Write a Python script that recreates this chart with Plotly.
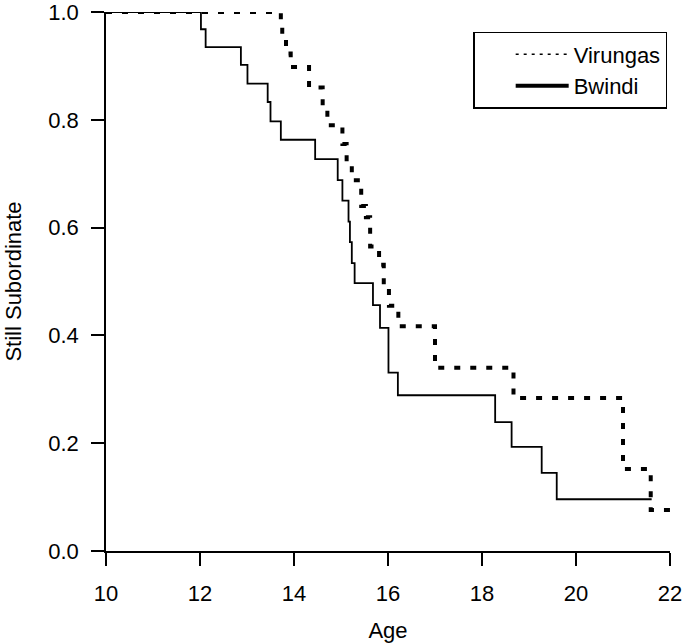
import plotly.graph_objects as go

# Kaplan-Meier style step data (age at event, proportion still subordinate)
virungas_age = [10, 13.72, 13.75, 13.83, 13.93, 14.32, 14.61, 14.71, 15.03, 15.12, 15.23,
                15.43, 15.53, 15.62, 15.81, 15.91, 16.02, 16.22, 17.0, 18.67, 21.0, 21.59, 22.0]
virungas_surv = [1.0, 0.975, 0.949, 0.923, 0.898, 0.860, 0.823, 0.790, 0.755, 0.719, 0.688,
                 0.640, 0.619, 0.565, 0.531, 0.490, 0.455, 0.417, 0.340, 0.284, 0.152, 0.076, 0.076]

bwindi_age = [10, 12.02, 12.12, 12.87, 13.01, 13.44, 13.50, 13.72, 14.45, 14.93, 15.03, 15.16,
              15.19, 15.23, 15.29, 15.68, 15.83, 16.01, 16.21, 18.28, 18.63, 19.27, 19.59, 21.61]
bwindi_surv = [1.0, 0.968, 0.935, 0.902, 0.867, 0.833, 0.797, 0.763, 0.727, 0.688, 0.650, 0.611,
               0.573, 0.534, 0.497, 0.456, 0.414, 0.331, 0.289, 0.239, 0.193, 0.145, 0.096, 0.096]

x_ticks = [10, 12, 14, 16, 18, 20, 22]
y_ticks = [0.0, 0.2, 0.4, 0.6, 0.8, 1.0]
y_tick_labels = ["0.0", "0.2", "0.4", "0.6", "0.8", "1.0"]

FONT = "Liberation Sans, Arial, Helvetica, sans-serif"
FS = 22

fig = go.Figure()
fig.add_trace(go.Scatter(x=virungas_age, y=virungas_surv, mode="lines", line_shape="hv",
                         line=dict(color="black", width=4, dash="6px,10px"),
                         showlegend=False, cliponaxis=False))
fig.add_trace(go.Scatter(x=bwindi_age, y=bwindi_surv, mode="lines", line_shape="hv",
                         line=dict(color="black", width=1.8),
                         showlegend=False, cliponaxis=False))
# legend entries (styled like the original legend)
fig.add_trace(go.Scatter(x=[None], y=[None], mode="lines", name="Virungas",
                         line=dict(color="black", width=1.5, dash="3px,5px")))
fig.add_trace(go.Scatter(x=[None], y=[None], mode="lines", name="Bwindi",
                         line=dict(color="black", width=4)))

axis_common = dict(showline=True, linecolor="black", linewidth=1.5, ticks="outside",
                   ticklen=13, tickwidth=1.5, tickcolor="black", showgrid=False,
                   zeroline=False, automargin=False, ticklabeloverflow="allow",
                   tickfont=dict(family=FONT, size=FS, color="black"))

fig.update_layout(
    width=685, height=643,
    margin=dict(l=106, r=15, t=12, b=92),
    paper_bgcolor="white", plot_bgcolor="white",
    font=dict(family=FONT, size=FS, color="black"),
    xaxis=dict(range=[10, 22], tickvals=x_ticks, ticklabelstandoff=9,
               title=dict(text="Age", font=dict(family=FONT, size=FS), standoff=17),
               **axis_common),
    yaxis=dict(range=[0, 1], tickvals=y_ticks, ticktext=y_tick_labels, ticklabelstandoff=8,
               title=dict(text="Still Subordinate", font=dict(family=FONT, size=FS), standoff=21),
               **axis_common),
    legend=dict(x=0.995, xanchor="right", y=0.963, yanchor="top",
                bordercolor="black", borderwidth=1.5, bgcolor="white",
                font=dict(family=FONT, size=FS), itemwidth=53, indentation=36,
                tracegroupgap=0),
)

fig.write_html("out.html", config={"displayModeBar": False},
               post_script="document.body.style.margin='0';document.body.style.overflow='hidden';")
